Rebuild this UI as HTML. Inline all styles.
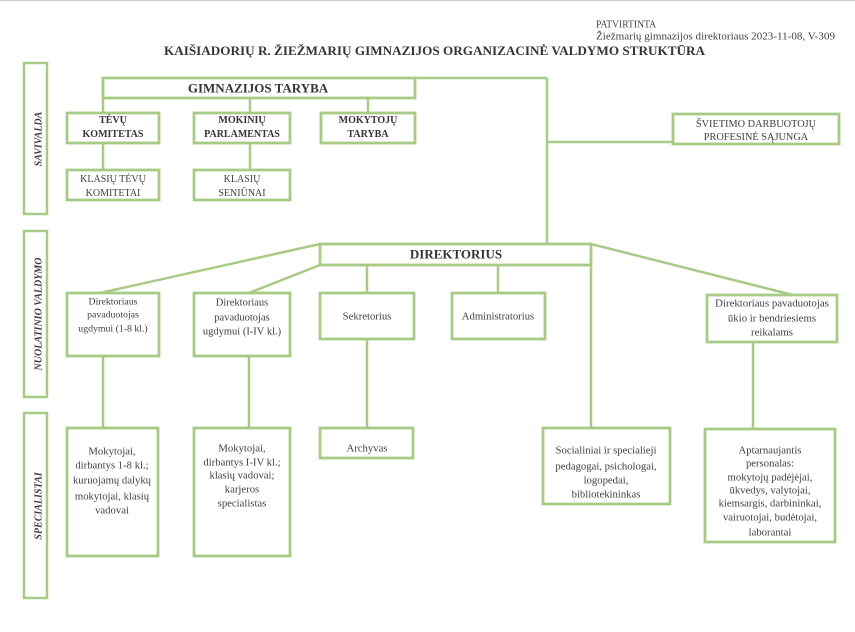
<!DOCTYPE html>
<html><head><meta charset="utf-8"><style>
html,body{margin:0;padding:0;background:#fff;}
svg{display:block;}
text{font-family:"Liberation Serif",serif;fill:#404040;}
.b{font-weight:bold;fill:#353535;}
.s{font-weight:bold;font-style:italic;font-size:10px;fill:#3a3a3a;}
</style></head><body>
<svg width="855" height="632" viewBox="0 0 855 632" xmlns="http://www.w3.org/2000/svg">
<rect width="855" height="632" fill="#fff"/>
<line x1="0" y1="0.5" x2="855" y2="0.5" stroke="#cfcfcf" stroke-width="1"/>

<!-- header -->
<text x="596" y="27.5" font-size="10.5" textLength="60" lengthAdjust="spacingAndGlyphs">PATVIRTINTA</text>
<text x="596" y="39.5" font-size="11" textLength="239" lengthAdjust="spacingAndGlyphs">Žiežmarių gimnazijos direktoriaus 2023-11-08, V-309</text>
<text class="b" x="164" y="55" font-size="13" textLength="541" lengthAdjust="spacingAndGlyphs">KAIŠIADORIŲ R. ŽIEŽMARIŲ GIMNAZIJOS ORGANIZACINĖ VALDYMO STRUKTŪRA</text>

<g fill="none" stroke="#a7cb85">
<!-- side boxes -->
<rect x="24" y="63" width="23" height="151" stroke-width="2.5"/>
<rect x="24" y="231" width="23" height="166" stroke-width="2.5"/>
<rect x="24" y="413" width="23" height="185" stroke-width="2.5"/>

<!-- connectors -->
<g stroke-width="2.5">
<line x1="415" y1="78" x2="547" y2="78"/>
<line x1="547" y1="78" x2="547" y2="244"/>
<line x1="103" y1="98" x2="103" y2="113"/>
<line x1="250" y1="98" x2="250" y2="113"/>
<line x1="368" y1="98" x2="368" y2="113"/>
<line x1="103" y1="143" x2="103" y2="170"/>
<line x1="250" y1="143" x2="250" y2="170"/>
<line x1="547" y1="142" x2="673" y2="142"/>
<line x1="320" y1="244" x2="100" y2="293"/>
<line x1="320" y1="265" x2="249" y2="293"/>
<line x1="591" y1="244" x2="793" y2="295"/>
<line x1="367" y1="265" x2="367" y2="293"/>
<line x1="498" y1="265" x2="498" y2="293"/>
<line x1="591" y1="265" x2="591" y2="428"/>
<line x1="103" y1="356" x2="103" y2="428"/>
<line x1="249" y1="356" x2="249" y2="428"/>
<line x1="367" y1="339" x2="367" y2="428"/>
<line x1="753" y1="342" x2="753" y2="429"/>
</g>

<!-- boxes -->
<g stroke-width="2.8">
<rect x="103" y="78" width="312" height="20"/>
<rect x="67" y="113" width="92" height="30"/>
<rect x="194" y="113" width="96" height="30"/>
<rect x="321" y="113" width="94" height="30"/>
<rect x="67" y="170" width="92" height="30"/>
<rect x="194" y="170" width="96" height="30"/>
<rect x="673" y="114" width="166" height="30"/>
<rect x="320" y="244" width="271" height="21"/>
<rect x="67" y="293" width="92" height="63"/>
<rect x="194" y="293" width="96" height="63"/>
<rect x="320" y="293" width="94" height="46"/>
<rect x="452" y="293" width="93" height="46"/>
<rect x="707" y="295" width="130" height="47"/>
<rect x="67" y="428" width="91" height="128"/>
<rect x="194" y="428" width="96" height="128"/>
<rect x="320" y="428" width="93" height="30"/>
<rect x="543" y="428" width="127" height="76"/>
<rect x="705" y="429" width="130" height="113"/>
</g>
</g>

<!-- side labels -->
<text class="s" transform="translate(41.5,139) rotate(-90)" text-anchor="middle">SAVIVALDA</text>
<text class="s" transform="translate(41.5,314) rotate(-90)" text-anchor="middle">NUOLATINIO VALDYMO</text>
<text class="s" transform="translate(41.5,506) rotate(-90)" text-anchor="middle">SPECIALISTAI</text>

<g text-anchor="middle">
<text class="b" x="258" y="92.5" font-size="13">GIMNAZIJOS TARYBA</text>
<text class="b" x="113" y="123" font-size="10">TĖVŲ</text>
<text class="b" x="113" y="137" font-size="10">KOMITETAS</text>
<text class="b" x="242" y="123" font-size="10">MOKINIŲ</text>
<text class="b" x="242" y="137" font-size="10">PARLAMENTAS</text>
<text class="b" x="368" y="123" font-size="10">MOKYTOJŲ</text>
<text class="b" x="368" y="137" font-size="10">TARYBA</text>

<text x="113" y="182" font-size="10">KLASIŲ TĖVŲ</text>
<text x="113" y="196" font-size="10">KOMITETAI</text>
<text x="242" y="182" font-size="10">KLASIŲ</text>
<text x="242" y="196" font-size="10">SENIŪNAI</text>

<text x="756" y="127" font-size="10.3">ŠVIETIMO DARBUOTOJŲ</text>
<text x="756" y="140" font-size="10.3">PROFESINĖ SĄJUNGA</text>

<text class="b" x="456" y="258.5" font-size="13">DIREKTORIUS</text>

<text x="113" y="304.5" font-size="9.8">Direktoriaus</text>
<text x="113" y="317.5" font-size="9.8">pavaduotojas</text>
<text x="113" y="331.5" font-size="9.8">ugdymui (1-8 kl.)</text>

<text x="242" y="305.5" font-size="10.5">Direktoriaus</text>
<text x="242" y="320.5" font-size="10.5">pavaduotojas</text>
<text x="242" y="334.5" font-size="10.5">ugdymui (I-IV kl.)</text>

<text x="367" y="319.5" font-size="10.7">Sekretorius</text>
<text x="498" y="319.5" font-size="10.7">Administratorius</text>

<text x="772" y="306.5" font-size="10.8">Direktoriaus pavaduotojas</text>
<text x="772" y="321.5" font-size="10.8">ūkio ir bendriesiems</text>
<text x="772" y="335.5" font-size="10.8">reikalams</text>

<text x="112" y="454.5" font-size="10.7">Mokytojai,</text>
<text x="112" y="468.5" font-size="10.7">dirbantys 1-8 kl.;</text>
<text x="112" y="483.5" font-size="10.7">kuruojamų dalykų</text>
<text x="112" y="499.5" font-size="10.7">mokytojai, klasių</text>
<text x="112" y="513.5" font-size="10.7">vadovai</text>

<text x="242" y="451.5" font-size="10.7">Mokytojai,</text>
<text x="242" y="465.5" font-size="10.7">dirbantys I-IV kl.;</text>
<text x="242" y="478.5" font-size="10.7">klasių vadovai;</text>
<text x="242" y="492.5" font-size="10.7">karjeros</text>
<text x="242" y="506.5" font-size="10.7">specialistas</text>

<text x="367" y="451.5" font-size="10.7">Archyvas</text>

<text x="606" y="453.5" font-size="10.7">Socialiniai ir specialieji</text>
<text x="606" y="469.5" font-size="10.7">pedagogai, psichologai,</text>
<text x="606" y="483.5" font-size="10.7">logopedai,</text>
<text x="606" y="497.5" font-size="10.7">bibliotekininkas</text>

<text x="770" y="453.5" font-size="10.7">Aptarnaujantis</text>
<text x="770" y="466.5" font-size="10.7">personalas:</text>
<text x="770" y="480.5" font-size="10.7">mokytojų padėjėjai,</text>
<text x="770" y="493.5" font-size="10.7">ūkvedys, valytojai,</text>
<text x="770" y="506.5" font-size="10.7">kiemsargis, darbininkai,</text>
<text x="770" y="520.5" font-size="10.7">vairuotojai, budėtojai,</text>
<text x="770" y="535.5" font-size="10.7">laborantai</text>
</g>
</svg>
</body></html>
